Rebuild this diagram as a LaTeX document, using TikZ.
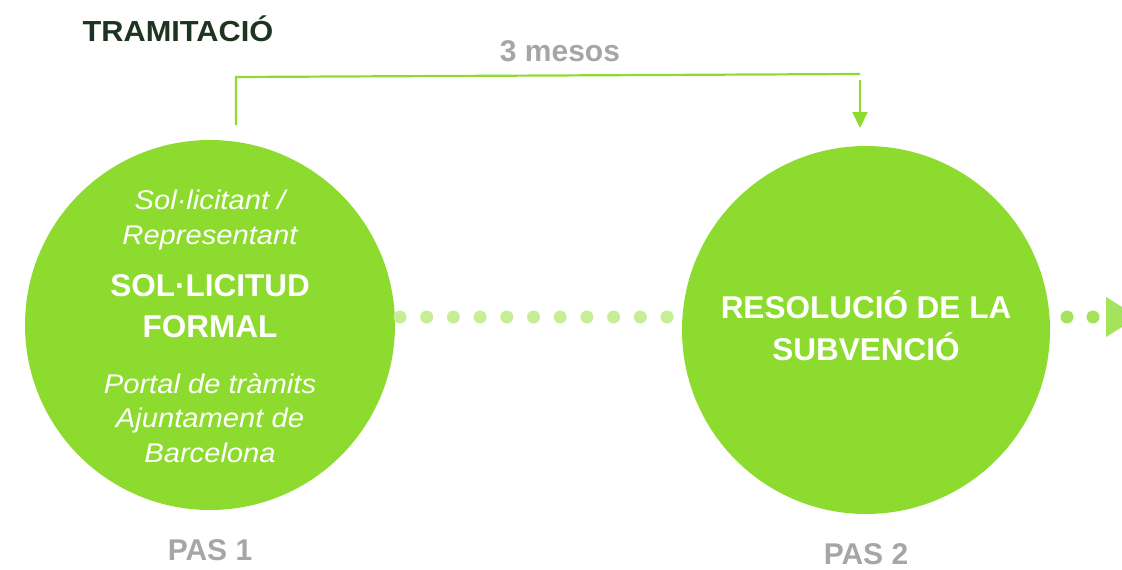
\documentclass[tikz,border=0pt]{standalone}
\usepackage{fontspec}
\setmainfont{Liberation Sans}
\newfontfamily\itfont[FakeStretch=1.08]{Liberation Sans}
\newfontfamily\titlefont[FakeStretch=1.06]{Liberation Sans}
\usetikzlibrary{arrows.meta}
\definecolor{cgreen}{HTML}{8EDB2F}
\definecolor{dotgreen}{HTML}{C6EE94}
\definecolor{dotgreen2}{HTML}{A6E35C}
\definecolor{titlegreen}{HTML}{1F3322}
\definecolor{pasgray}{HTML}{A6A6A6}
\tikzset{
  stepcircle/.style={circle, fill=cgreen, minimum size=#1, inner sep=0pt},
  ital/.style={text=white, font=\itfont\fontsize{27}{30}\selectfont\itshape, inner sep=0pt, anchor=base},
  big/.style={text=white, font=\fontsize{31.5}{34}\selectfont\bfseries, inner sep=0pt, anchor=base},
  pas/.style={text=pasgray, font=\fontsize{30}{33}\selectfont\bfseries, inner sep=0pt, anchor=base},
  dotc/.style={circle, fill=dotgreen, minimum size=13pt, inner sep=0pt},
  dotd/.style={circle, fill=dotgreen2, minimum size=13pt, inner sep=0pt},
  bracket/.style={draw=cgreen, line width=2.2pt},
}
\begin{document}
\begin{tikzpicture}[x=1pt,y=-1pt]
\useasboundingbox (0,0) rectangle (1122,570);
% circles
\node[stepcircle=370pt] (c1) at (210,325) {};
\node[stepcircle=368pt] (c2) at (866,330) {};
% title
\node[text=titlegreen, font=\titlefont\fontsize{29}{32}\selectfont\bfseries, inner sep=0pt, anchor=base] (title) at (178,41) {TRAMITACIÓ};
\node[pas] (mesos) at (560,61) {3 mesos};
% bracket
\coordinate (b1) at (236,125);
\coordinate (b2) at (236,77);
\coordinate (b3) at (860,74);
\coordinate (b4) at (860,128);
\draw[bracket] (b1) -- (b2) -- (b3);
\draw[bracket, -{Triangle[length=16pt,width=15pt]}] (860,80) -- (b4);
% circle 1 text
\node[ital] (t1) at (210,209) {Sol·licitant /};
\node[ital] (t2) at (210,244) {Representant};
\node[big] (t3) at (210,296) {SOL·LICITUD};
\node[big] (t4) at (210,337) {FORMAL};
\node[ital] (t5) at (210,393) {Portal de tràmits};
\node[ital] (t6) at (210,427) {Ajuntament de};
\node[ital] (t7) at (210,462) {Barcelona};
% circle 2 text
\node[big] (r1) at (866,318) {RESOLUCIÓ DE LA};
\node[big] (r2) at (866,360) {SUBVENCIÓ};
% PAS
\node[pas] (p1) at (210,560) {PAS 1};
\node[pas] (p2) at (866,564) {PAS 2};
% dots
\foreach \i in {0,...,10} {
  \node[dotc] (d\i) at ({400+26.7*\i},317) {};
}
\node[dotd] (e1) at (1067,317) {};
\node[dotd] (e2) at (1093,317) {};
\fill[dotgreen2] (1106,297) -- (1122,307) -- (1122,327) -- (1106,337) -- cycle;
\end{tikzpicture}
\end{document}
